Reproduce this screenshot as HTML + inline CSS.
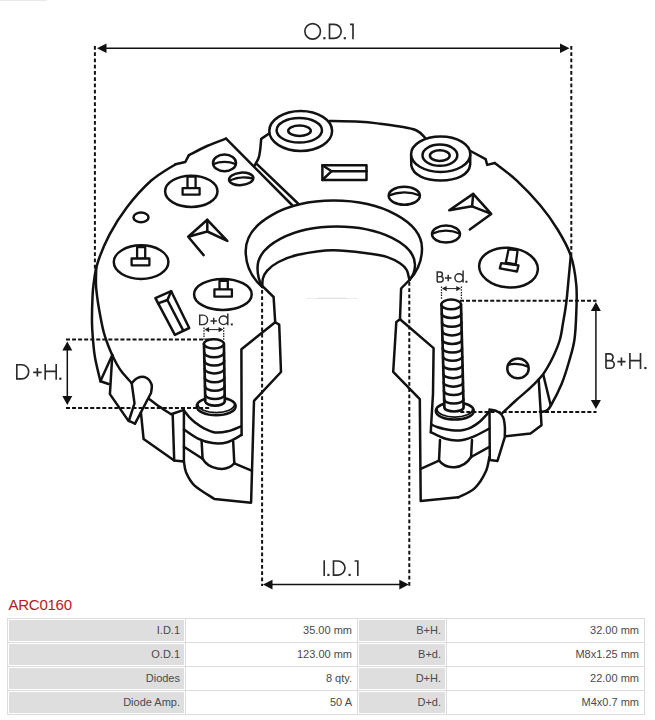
<!DOCTYPE html>
<html><head><meta charset="utf-8"><title>ARC0160</title>
<style>
html,body{margin:0;padding:0;background:#fff;}
body{width:655px;height:720px;position:relative;overflow:hidden;font-family:"Liberation Sans",sans-serif;}
#ttl{position:absolute;left:8.5px;top:596px;font-size:15px;line-height:18px;color:#b0202a;letter-spacing:-0.25px;}
table{position:absolute;left:7px;top:618px;width:637px;border-collapse:collapse;table-layout:fixed;}
td{border:1px solid #dcdcdc;height:23px;padding:0;font-size:11px;color:#4a4a4a;text-align:right;box-sizing:border-box;}
td.k{padding:1px;}
td.k div{background:#dedede;height:21px;line-height:21px;padding-right:4px;box-sizing:border-box;}
td.v{padding-right:5px;line-height:21px;}
col.c1{width:178px}col.c2{width:172px}col.c3{width:89px}col.c4{width:198px}
</style></head><body>
<svg width="655" height="595" viewBox="0 0 655 595" style="position:absolute;left:0;top:0">
<path d="M226.1,138.6 C222.9,139.8 213.2,143.2 207.0,146.0 C200.8,148.8 191.9,153.7 188.9,155.2" fill="none" stroke="#111" stroke-width="2.50" stroke-linejoin="round" stroke-linecap="round" />
<path d="M188.9,155.2 L185.3,162.0 L175.5,164.2" fill="none" stroke="#111" stroke-width="2.50" stroke-linejoin="round" stroke-linecap="round" />
<path d="M175.5,164.2 C171.4,167.0 159.2,173.6 151.0,180.8 C142.8,188.1 133.5,198.7 126.6,207.7 C119.7,216.7 114.3,225.4 109.5,234.6 C104.7,243.8 100.2,254.8 97.6,263.0 C94.9,271.2 94.5,277.8 93.6,284.0 C92.7,290.2 92.7,293.4 92.4,300.0 C92.1,306.6 91.9,316.6 92.0,323.3 C92.1,330.0 92.5,334.3 93.0,340.0 C93.5,345.7 93.8,350.6 95.0,357.5 C96.2,364.4 99.5,377.3 100.4,381.3" fill="none" stroke="#111" stroke-width="2.50" stroke-linejoin="round" stroke-linecap="round" />
<path d="M96.2,268.0 C96.2,270.8 95.8,279.7 96.0,285.0 C96.2,290.3 96.9,294.8 97.6,300.0 C98.3,305.2 99.3,310.6 100.3,316.0 C101.3,321.4 102.5,327.7 103.8,332.5 C105.1,337.3 106.6,341.2 108.0,345.0 C109.4,348.8 110.7,351.8 112.2,355.0 C113.7,358.2 115.3,361.5 117.0,364.5 C118.7,367.5 120.0,369.7 122.5,372.8 C125.0,375.9 130.2,381.4 131.7,383.1" fill="none" stroke="#111" stroke-width="2.50" stroke-linejoin="round" stroke-linecap="round" />
<path d="M112.3,355.0 L100.4,381.3 L108.6,384.0" fill="none" stroke="#111" stroke-width="2.50" stroke-linejoin="round" stroke-linecap="round" />
<path d="M112.3,355.0 L109.9,394.1 L128.3,420.6 L135.0,423.6" fill="none" stroke="#111" stroke-width="2.50" stroke-linejoin="round" stroke-linecap="round" />
<path d="M131.7,383.1 L134.5,403.3 L128.8,421.0" fill="none" stroke="#111" stroke-width="2.50" stroke-linejoin="round" stroke-linecap="round" />
<path d="M131.7,383.1 C132.6,382.3 134.9,379.1 137.2,378.2 C139.5,377.2 143.1,376.3 145.5,377.4 C147.9,378.4 150.7,381.9 151.6,384.5 C152.5,387.1 151.1,391.6 151.0,393.0 L135.0,423.6" fill="none" stroke="#111" stroke-width="2.50" stroke-linejoin="round" stroke-linecap="round" />
<path d="M148.8,398.7 C150.7,400.1 156.4,404.4 160.1,407.0 C163.8,409.6 169.3,413.1 171.1,414.3 L183.9,409.9" fill="none" stroke="#111" stroke-width="2.50" stroke-linejoin="round" stroke-linecap="round" />
<path d="M140.9,412.4 L143.6,439.0 L174.2,460.5" fill="none" stroke="#111" stroke-width="2.50" stroke-linejoin="round" stroke-linecap="round" />
<path d="M172.7,414.7 L174.2,460.5 L183.9,461.5 L183.9,410.5" fill="none" stroke="#111" stroke-width="2.50" stroke-linejoin="round" stroke-linecap="round" />
<path d="M183.9,410.5 C184.8,411.6 187.0,414.7 189.0,416.8 C191.0,418.9 193.2,421.0 195.7,422.9 C198.2,424.8 200.8,426.8 204.0,428.4 C207.2,430.0 211.0,431.9 214.9,432.4 C218.8,432.9 223.4,432.3 227.7,431.3 C232.0,430.3 238.6,427.2 240.8,426.4" fill="none" stroke="#111" stroke-width="2.50" stroke-linejoin="round" stroke-linecap="round" />
<path d="M183.9,429.4 C186.2,430.9 193.2,436.3 198.0,438.6 C202.8,440.9 207.7,442.5 212.6,443.1 C217.5,443.7 222.5,443.6 227.3,442.2 C232.1,440.8 239.2,436.1 241.6,434.9" fill="none" stroke="#111" stroke-width="2.50" stroke-linejoin="round" stroke-linecap="round" />
<path d="M201.6,441.3 L202.6,458.7" fill="none" stroke="#111" stroke-width="2.50" stroke-linejoin="round" stroke-linecap="round" />
<path d="M233.2,441.6 L234.3,463.3" fill="none" stroke="#111" stroke-width="2.50" stroke-linejoin="round" stroke-linecap="round" />
<path d="M202.6,458.7 C208,469 226,473 234.3,463.3" fill="none" stroke="#111" stroke-width="2.50" stroke-linejoin="round" stroke-linecap="round" />
<path d="M183.9,446.8 L202.6,458.7" fill="none" stroke="#111" stroke-width="2.50" stroke-linejoin="round" stroke-linecap="round" />
<path d="M234.3,463.3 L251.6,470.6" fill="none" stroke="#111" stroke-width="2.50" stroke-linejoin="round" stroke-linecap="round" />
<path d="M183.9,461.5 C184.3,463.3 184.4,468.4 186.1,472.4 C187.8,476.4 189.6,480.9 194.3,485.3 C199.0,489.7 211.1,496.7 214.5,499.0 L251.1,502.7 L253.4,421.9 L254.0,400.8 L281.0,372 L279.2,324.6 L275.2,322.2" fill="none" stroke="#111" stroke-width="2.50" stroke-linejoin="round" stroke-linecap="round" />
<path d="M262.5,286.2 L273.6,297.0 L275.2,322.2 L241.4,349.3 L241.6,434.9" fill="none" stroke="#111" stroke-width="2.50" stroke-linejoin="round" stroke-linecap="round" />
<path d="M262.3,287 C252,278 245.7,266 245.7,251 C245.7,223 285,200.6 333.5,200.6 C382,200.6 422.0,222 422.0,248.5 C422.0,262 416,273 409.4,280" fill="none" stroke="#111" stroke-width="2.50" stroke-linejoin="round" stroke-linecap="round" />
<path d="M262.3,287 C259,281 257.5,275 257.5,268 C257.5,245 293,226.5 336.5,226.5 C380,226.5 415.0,244 415.0,265 C415.0,271 413,276 409.4,280" fill="none" stroke="#111" stroke-width="2.50" stroke-linejoin="round" stroke-linecap="round" />
<path d="M262.3,287.0 C262.4,285.6 262.1,281.2 262.9,278.5 C263.7,275.8 264.6,273.4 267.2,270.6 C269.8,267.9 273.4,264.6 278.5,262.0 C283.6,259.4 288.9,256.8 298.0,254.8 C307.1,252.9 320.7,250.5 332.8,250.3 C344.9,250.1 361.5,252.7 370.5,253.8 C379.5,254.9 381.8,255.3 386.7,256.9 C391.6,258.5 396.7,261.1 400.0,263.3 C403.3,265.5 405.1,267.2 406.7,270.0 C408.3,272.8 408.9,278.3 409.4,280.0" fill="none" stroke="#111" stroke-width="2.50" stroke-linejoin="round" stroke-linecap="round" />
<path d="M409.4,280.0 L401.1,288.5 L400.0,319.2 L396.3,322.0 L393.2,371.8 L419.8,399.2 L420.7,500.9 L458.3,497.3" fill="none" stroke="#111" stroke-width="2.50" stroke-linejoin="round" stroke-linecap="round" />
<path d="M458.3,497.3 C461.1,495.8 470.2,492.4 474.8,488.1 C479.4,483.8 483.4,476.8 485.8,471.6 C488.2,466.4 488.8,459.4 489.4,457.0" fill="none" stroke="#111" stroke-width="2.50" stroke-linejoin="round" stroke-linecap="round" />
<path d="M400.0,319.2 L433.6,348.1 L433.0,393.9 L431.2,424.0 L430.8,432.2" fill="none" stroke="#111" stroke-width="2.50" stroke-linejoin="round" stroke-linecap="round" />
<path d="M431.4,424.5 C432.3,424.9 434.8,426.3 437.0,427.0 C439.2,427.7 441.1,428.3 444.4,428.9 C447.7,429.5 453.2,430.5 456.6,430.6 C460.0,430.7 462.6,430.1 465.0,429.6 C467.4,429.1 468.8,428.8 471.3,427.4 C473.8,426.0 477.0,424.1 480.0,421.5 C483.0,418.9 487.9,413.2 489.5,411.5" fill="none" stroke="#111" stroke-width="2.50" stroke-linejoin="round" stroke-linecap="round" />
<path d="M430.8,432.2 C433.2,433.3 440.9,437.4 445.5,438.8 C450.1,440.2 453.7,440.8 458.3,440.5 C462.9,440.2 467.7,438.8 472.9,436.8 C478.1,434.8 486.6,430.0 489.4,428.6" fill="none" stroke="#111" stroke-width="2.50" stroke-linejoin="round" stroke-linecap="round" />
<path d="M440.0,440.0 L439.0,460.6" fill="none" stroke="#111" stroke-width="2.50" stroke-linejoin="round" stroke-linecap="round" />
<path d="M472.0,440.0 L471.1,457.0" fill="none" stroke="#111" stroke-width="2.50" stroke-linejoin="round" stroke-linecap="round" />
<path d="M439,460.6 C446,470 463,470 471.1,457" fill="none" stroke="#111" stroke-width="2.50" stroke-linejoin="round" stroke-linecap="round" />
<path d="M420.7,468.9 L439.0,460.6" fill="none" stroke="#111" stroke-width="2.50" stroke-linejoin="round" stroke-linecap="round" />
<path d="M471.1,457.0 L489.4,446.9" fill="none" stroke="#111" stroke-width="2.50" stroke-linejoin="round" stroke-linecap="round" />
<path d="M489.5,409.6 C490.8,409.9 495.2,410.3 497.5,411.5 C499.8,412.7 501.8,414.6 503.0,417.0 C504.2,419.4 504.5,422.8 504.8,426.1 C505.1,429.5 504.8,435.3 504.8,437.1 L497.5,460.9 L489.8,460 L489.5,409.6" fill="none" stroke="#111" stroke-width="2.50" stroke-linejoin="round" stroke-linecap="round" />
<path d="M502.1,413.3 C504.4,411.2 511.1,404.8 515.8,400.5 C520.5,396.2 525.9,392.0 530.5,387.6 C535.1,383.2 539.6,378.8 543.3,373.9 C546.9,369.0 549.6,363.9 552.4,358.3 C555.1,352.7 558.0,346.1 559.8,340.0 C561.6,333.9 562.1,328.1 563.2,322.0 C564.3,315.9 565.2,311.0 566.2,303.3 C567.2,295.6 568.1,283.7 568.9,275.8 C569.7,267.9 570.5,259.1 570.8,255.7" fill="none" stroke="#111" stroke-width="2.50" stroke-linejoin="round" stroke-linecap="round" />
<path d="M494.8,163.0 C498.5,165.9 509.3,173.6 516.8,180.6 C524.3,187.6 533.1,196.8 540.0,205.0 C546.9,213.2 552.8,221.6 557.9,230.0 C563.0,238.4 567.7,246.5 570.8,255.7 C573.9,264.9 575.4,275.6 576.3,285.0 C577.2,294.4 576.6,303.2 576.3,312.4 C576.0,321.6 575.6,331.7 574.4,340.0 C573.2,348.3 571.0,354.7 568.9,362.0 C566.8,369.3 564.6,376.7 561.6,384.0 C558.6,391.3 553.2,401.5 550.6,406.0 C548.0,410.5 547.8,409.8 546.0,410.8 C544.2,411.8 541.0,411.6 540.0,411.8" fill="none" stroke="#111" stroke-width="2.50" stroke-linejoin="round" stroke-linecap="round" />
<path d="M494.8,163.0 L487.2,164.9 L485.6,159.2 L470.5,151.0" fill="none" stroke="#111" stroke-width="2.50" stroke-linejoin="round" stroke-linecap="round" />
<path d="M543.3,374.8 L550.6,405.0" fill="none" stroke="#111" stroke-width="2.50" stroke-linejoin="round" stroke-linecap="round" />
<path d="M538.7,379.4 L541.5,425.2 L530.5,433.4 L505.7,436.2" fill="none" stroke="#111" stroke-width="2.50" stroke-linejoin="round" stroke-linecap="round" />
<path d="M329.5,121.0 C334.6,121.1 351.6,121.3 360.0,121.8 C368.4,122.2 373.3,122.9 380.0,123.7 C386.7,124.5 393.9,125.4 400.0,126.5 C406.1,127.6 412.4,128.6 416.6,130.5 C420.8,132.4 423.8,136.7 425.2,137.9" fill="none" stroke="#111" stroke-width="2.50" stroke-linejoin="round" stroke-linecap="round" />
<path d="M269.5,133.2 L261.2,138.9 C261.0,140.7 260.6,146.5 260.2,149.7 C259.8,152.9 259.6,155.2 258.6,158.0 C257.6,160.8 254.9,164.8 254.2,166.2 M257.2,164.4 L298.0,203.5" fill="none" stroke="#111" stroke-width="2.50" stroke-linejoin="round" stroke-linecap="round" />
<path d="M226.1,138.6 L292.0,205.0" fill="none" stroke="#111" stroke-width="2.50" stroke-linejoin="round" stroke-linecap="round" />
<ellipse cx="300.7" cy="131.0" rx="31.4" ry="19.9" fill="#fff" stroke="#111" stroke-width="2.50"/>
<ellipse cx="299.3" cy="130.3" rx="22.7" ry="12.3" fill="none" stroke="#111" stroke-width="2.50"/>
<ellipse cx="299.5" cy="130.7" rx="11.3" ry="5.2" fill="none" stroke="#111" stroke-width="2.50"/>
<path d="M411.1,154.2 L411.3,165.5 C413,175 425,180.4 440.7,180.4 C457,180.4 469,175 470.2,164.5 L470.2,154.2" fill="#fff" stroke="#111" stroke-width="2.50" stroke-linejoin="round" stroke-linecap="round" />
<ellipse cx="440.7" cy="154.2" rx="29.6" ry="17.7" fill="#fff" stroke="#111" stroke-width="2.50"/>
<ellipse cx="439.9" cy="155.2" rx="17.4" ry="10.6" fill="none" stroke="#111" stroke-width="2.50"/>
<ellipse cx="439.8" cy="155.6" rx="9.9" ry="5.4" fill="none" stroke="#111" stroke-width="2.50"/>
<ellipse cx="191.3" cy="191.3" rx="26.2" ry="15.6" fill="none" stroke="#111" stroke-width="2.50"/>
<path d="M187.5,176.6 L195.6,176.6 L195.6,188.6 L187.5,188.6 Z" fill="#fff" stroke="#111" stroke-width="2.30" stroke-linejoin="round" stroke-linecap="round" />
<path d="M182.6,188.1 L199.6,188.1 L199.6,194.7 L182.6,194.7 Z" fill="#fff" stroke="#111" stroke-width="2.30" stroke-linejoin="round" stroke-linecap="round" />
<ellipse cx="141.1" cy="262.1" rx="27.3" ry="16.8" fill="none" stroke="#111" stroke-width="2.50"/>
<path d="M137.1,247.1 L145.2,247.1 L145.2,259.0 L137.1,259.0 Z" fill="#fff" stroke="#111" stroke-width="2.30" stroke-linejoin="round" stroke-linecap="round" />
<path d="M131.6,258.5 L149.4,258.5 L149.4,265.3 L131.6,265.3 Z" fill="#fff" stroke="#111" stroke-width="2.30" stroke-linejoin="round" stroke-linecap="round" />
<ellipse cx="222.9" cy="294.4" rx="28.8" ry="15.5" fill="none" stroke="#111" stroke-width="2.50"/>
<path d="M219.5,280.8 L227.8,280.8 L227.8,289.9 L219.5,289.9 Z" fill="#fff" stroke="#111" stroke-width="2.30" stroke-linejoin="round" stroke-linecap="round" />
<path d="M214.4,289.4 L231.9,289.4 L231.9,296.7 L214.4,296.7 Z" fill="#fff" stroke="#111" stroke-width="2.30" stroke-linejoin="round" stroke-linecap="round" />
<ellipse cx="508.5" cy="267.6" rx="29.4" ry="19.8" fill="none" stroke="#111" stroke-width="2.50" transform="rotate(5.0 508.5 267.6)"/>
<path d="M508.6,249.3 L517.6,250.2 L515.7,264.5 L505.8,262.6 Z" fill="#fff" stroke="#111" stroke-width="2.30" stroke-linejoin="round" stroke-linecap="round" />
<path d="M501.2,263.1 L518.5,265.4 L517.0,271.5 L499.8,268.4 Z" fill="#fff" stroke="#111" stroke-width="2.30" stroke-linejoin="round" stroke-linecap="round" />
<ellipse cx="141.0" cy="217.4" rx="7.5" ry="4.8" fill="none" stroke="#111" stroke-width="2.50"/>
<g><clipPath id="h1"><ellipse cx="224.5" cy="162.9" rx="11.5" ry="8.3"/></clipPath>
<path d="M211.5,164.9 Q224.5,158.9 237.5,164.9" fill="none" stroke="#111" stroke-width="2.25" clip-path="url(#h1)"/>
<ellipse cx="224.5" cy="162.9" rx="11.5" ry="8.3" fill="none" stroke="#111" stroke-width="2.50"/></g>
<g transform="rotate(-5.0 241.2 178.9)"><clipPath id="h2"><ellipse cx="241.2" cy="178.9" rx="12.2" ry="6.2"/></clipPath>
<path d="M227.5,180.4 Q241.2,174.6 255.0,180.4" fill="none" stroke="#111" stroke-width="2.25" clip-path="url(#h2)"/>
<ellipse cx="241.2" cy="178.9" rx="12.2" ry="6.2" fill="none" stroke="#111" stroke-width="2.50"/></g>
<g><clipPath id="h3"><ellipse cx="404.3" cy="195.8" rx="15.6" ry="9.0"/></clipPath>
<path d="M387.5,196.0 Q404.5,188.6 421.0,196.0" fill="none" stroke="#111" stroke-width="2.25" clip-path="url(#h3)"/>
<ellipse cx="404.3" cy="195.8" rx="15.6" ry="9.0" fill="none" stroke="#111" stroke-width="2.50"/></g>
<g><clipPath id="h4"><ellipse cx="446.0" cy="234.1" rx="14.0" ry="8.5"/></clipPath>
<path d="M430.5,234.4 Q446.0,227.0 461.5,234.4" fill="none" stroke="#111" stroke-width="2.25" clip-path="url(#h4)"/>
<ellipse cx="446.0" cy="234.1" rx="14.0" ry="8.5" fill="none" stroke="#111" stroke-width="2.50"/></g>
<g><clipPath id="h5"><ellipse cx="518.0" cy="368.4" rx="10.7" ry="9.9"/></clipPath>
<path d="M506.0,365.6 Q517.0,361.5 530.0,367.4" fill="none" stroke="#111" stroke-width="2.25" clip-path="url(#h5)"/>
<ellipse cx="518.0" cy="368.4" rx="10.7" ry="9.9" fill="none" stroke="#111" stroke-width="2.50"/></g>
<path d="M203.6,255.1 L188.2,236.7 L207.3,219.8 L227.3,240.9 L207.3,231.5 L188.2,236.7" fill="none" stroke="#111" stroke-width="2.50" stroke-linejoin="round" stroke-linecap="round" />
<path d="M207.3,219.8 L207.3,231.5" fill="none" stroke="#111" stroke-width="2.50" stroke-linejoin="round" stroke-linecap="round" />
<path d="M469.8,229.4 L491.2,213.9 L473.2,193.9 L449.3,210.2 L472.1,206.3 L491.2,213.9" fill="none" stroke="#111" stroke-width="2.50" stroke-linejoin="round" stroke-linecap="round" />
<path d="M473.2,193.9 L472.1,206.3" fill="none" stroke="#111" stroke-width="2.50" stroke-linejoin="round" stroke-linecap="round" />
<path d="M322.4,165.3 L366.5,165.3 L366.5,180.0 L322.4,180.0 Z" fill="none" stroke="#111" stroke-width="2.50" stroke-linejoin="round" stroke-linecap="round" />
<path d="M322.4,165.3 L331.6,171.2 L322.4,180.0" fill="none" stroke="#111" stroke-width="2.50" stroke-linejoin="round" stroke-linecap="round" />
<path d="M331.6,171.2 L366.5,171.2" fill="none" stroke="#111" stroke-width="2.50" stroke-linejoin="round" stroke-linecap="round" />
<path d="M155.4,298.2 L171.2,291.2 L189.2,328.0 L174.9,334.9 Z" fill="none" stroke="#111" stroke-width="2.50" stroke-linejoin="round" stroke-linecap="round" />
<path d="M158.0,303.4 L167.4,300.0 L183.3,330.6" fill="none" stroke="#111" stroke-width="2.50" stroke-linejoin="round" stroke-linecap="round" />
<path d="M171.2,291.2 L167.4,300.0" fill="none" stroke="#111" stroke-width="2.50" stroke-linejoin="round" stroke-linecap="round" />
<line x1="0" y1="0.5" x2="47" y2="0.5" stroke="#e9e9e9" stroke-width="1"/>
<line x1="306" y1="298.3" x2="358" y2="298.3" stroke="#ececec" stroke-width="1"/><line x1="318" y1="298.3" x2="346" y2="298.3" stroke="#e2e2e2" stroke-width="1"/>
<ellipse cx="216.2" cy="406.2" rx="19.5" ry="9.0" fill="#fff" stroke="#111" stroke-width="2.50"/>
<path d="M197.9,404.6 A18.3,8.0 0 0,0 234.5,404.6" fill="none" stroke="#111" stroke-width="1.75" stroke-linejoin="round" stroke-linecap="round" />
<path d="M204.0,343.8 L205.3,401.4 A9.8,4.8 0 0,0 224.8,401.4 L223.9,343.8 Z" fill="#fff" stroke="#111" stroke-width="2.70" stroke-linejoin="round" stroke-linecap="round" />
<ellipse cx="213.9" cy="343.8" rx="10.0" ry="4.6" fill="#fff" stroke="#111" stroke-width="2.50"/>
<path d="M204.2,352.4 A9.9,4.8 0 0,0 224.0,352.4" fill="none" stroke="#111" stroke-width="2.50" stroke-linejoin="round" stroke-linecap="round" />
<path d="M204.4,360.7 A9.9,4.8 0 0,0 224.2,360.7" fill="none" stroke="#111" stroke-width="2.50" stroke-linejoin="round" stroke-linecap="round" />
<path d="M204.6,369.1 A9.9,4.8 0 0,0 224.3,369.1" fill="none" stroke="#111" stroke-width="2.50" stroke-linejoin="round" stroke-linecap="round" />
<path d="M204.8,377.5 A9.8,4.8 0 0,0 224.4,377.5" fill="none" stroke="#111" stroke-width="2.50" stroke-linejoin="round" stroke-linecap="round" />
<path d="M205.0,386.0 A9.8,4.8 0 0,0 224.6,386.0" fill="none" stroke="#111" stroke-width="2.50" stroke-linejoin="round" stroke-linecap="round" />
<path d="M205.2,394.8 A9.8,4.8 0 0,0 224.7,394.8" fill="none" stroke="#111" stroke-width="2.50" stroke-linejoin="round" stroke-linecap="round" />
<ellipse cx="454.8" cy="410.9" rx="19.0" ry="8.7" fill="#fff" stroke="#111" stroke-width="2.50"/>
<path d="M437.0,409.3 A17.8,7.7 0 0,0 472.6,409.3" fill="none" stroke="#111" stroke-width="1.75" stroke-linejoin="round" stroke-linecap="round" />
<path d="M441.5,304.4 L444.4,407.2 A9.6,4.3 0 0,0 463.6,407.2 L461.0,304.4 Z" fill="#fff" stroke="#111" stroke-width="2.70" stroke-linejoin="round" stroke-linecap="round" />
<ellipse cx="451.2" cy="304.4" rx="9.8" ry="4.8" fill="#fff" stroke="#111" stroke-width="2.50"/>
<path d="M441.8,313.7 A9.7,4.3 0 0,0 461.2,313.7" fill="none" stroke="#111" stroke-width="2.50" stroke-linejoin="round" stroke-linecap="round" />
<path d="M442.0,322.5 A9.7,4.3 0 0,0 461.5,322.5" fill="none" stroke="#111" stroke-width="2.50" stroke-linejoin="round" stroke-linecap="round" />
<path d="M442.3,331.1 A9.7,4.3 0 0,0 461.7,331.1" fill="none" stroke="#111" stroke-width="2.50" stroke-linejoin="round" stroke-linecap="round" />
<path d="M442.5,339.7 A9.7,4.3 0 0,0 461.9,339.7" fill="none" stroke="#111" stroke-width="2.50" stroke-linejoin="round" stroke-linecap="round" />
<path d="M442.7,348.3 A9.7,4.3 0 0,0 462.1,348.3" fill="none" stroke="#111" stroke-width="2.50" stroke-linejoin="round" stroke-linecap="round" />
<path d="M443.0,356.9 A9.7,4.3 0 0,0 462.3,356.9" fill="none" stroke="#111" stroke-width="2.50" stroke-linejoin="round" stroke-linecap="round" />
<path d="M443.2,365.5 A9.7,4.3 0 0,0 462.5,365.5" fill="none" stroke="#111" stroke-width="2.50" stroke-linejoin="round" stroke-linecap="round" />
<path d="M443.5,373.9 A9.6,4.3 0 0,0 462.8,373.9" fill="none" stroke="#111" stroke-width="2.50" stroke-linejoin="round" stroke-linecap="round" />
<path d="M443.7,382.4 A9.6,4.3 0 0,0 463.0,382.4" fill="none" stroke="#111" stroke-width="2.50" stroke-linejoin="round" stroke-linecap="round" />
<path d="M443.9,390.8 A9.6,4.3 0 0,0 463.2,390.8" fill="none" stroke="#111" stroke-width="2.50" stroke-linejoin="round" stroke-linecap="round" />
<path d="M444.2,399.3 A9.6,4.3 0 0,0 463.4,399.3" fill="none" stroke="#111" stroke-width="2.50" stroke-linejoin="round" stroke-linecap="round" />
<line x1="94.9" y1="46.0" x2="94.9" y2="269.0" stroke="#111" stroke-width="2" stroke-dasharray="3.8 2.45"/>
<line x1="571.3" y1="46.0" x2="571.3" y2="256.0" stroke="#111" stroke-width="2" stroke-dasharray="3.8 2.45"/>
<line x1="100.0" y1="48.2" x2="566.5" y2="48.2" stroke="#111" stroke-width="1.5"/>
<path d="M97.0,48.2 L106.5,43.4 L106.5,53.0 Z" fill="#111"/>
<path d="M569.5,48.2 L560.0,43.4 L560.0,53.0 Z" fill="#111"/>
<line x1="262.1" y1="290.0" x2="262.1" y2="586.0" stroke="#111" stroke-width="2" stroke-dasharray="3.8 2.45"/>
<line x1="409.3" y1="282.0" x2="409.3" y2="586.0" stroke="#111" stroke-width="2" stroke-dasharray="3.8 2.45"/>
<line x1="266.0" y1="584.6" x2="405.8" y2="584.6" stroke="#111" stroke-width="1.5"/>
<path d="M263.0,584.6 L272.5,579.8 L272.5,589.4 Z" fill="#111"/>
<path d="M408.8,584.6 L399.3,579.8 L399.3,589.4 Z" fill="#111"/>
<line x1="66.0" y1="339.6" x2="212.0" y2="339.6" stroke="#111" stroke-width="2" stroke-dasharray="4 2.05"/>
<line x1="66.0" y1="407.9" x2="209.8" y2="407.9" stroke="#111" stroke-width="2" stroke-dasharray="4 2.05"/>
<line x1="67.3" y1="344.5" x2="67.3" y2="402.0" stroke="#111" stroke-width="1.5"/>
<path d="M67.3,341.5 L62.3,350.5 L72.3,350.5 Z" fill="#111"/>
<path d="M67.3,405.0 L62.3,396.0 L72.3,396.0 Z" fill="#111"/>
<line x1="460.0" y1="300.7" x2="596.5" y2="300.7" stroke="#111" stroke-width="2" stroke-dasharray="4 2.05"/>
<line x1="460.3" y1="411.9" x2="596.5" y2="411.9" stroke="#111" stroke-width="2" stroke-dasharray="4 2.05"/>
<line x1="595.9" y1="305.0" x2="595.9" y2="406.0" stroke="#111" stroke-width="1.5"/>
<path d="M595.9,302.0 L590.9,311.0 L600.9,311.0 Z" fill="#111"/>
<path d="M595.9,409.0 L590.9,400.0 L600.9,400.0 Z" fill="#111"/>
<line x1="204.0" y1="327.5" x2="204.0" y2="340.0" stroke="#222" stroke-width="1.3" stroke-dasharray="1.5 1.2"/>
<line x1="223.7" y1="327.5" x2="223.7" y2="340.0" stroke="#222" stroke-width="1.3" stroke-dasharray="1.5 1.2"/>
<line x1="206.0" y1="329.6" x2="221.7" y2="329.6" stroke="#222" stroke-width="1"/>
<path d="M204.5,329.6 l4.6,-2.7 v5.4 Z M223.2,329.6 l-4.6,-2.7 v5.4 Z" fill="#222"/>
<line x1="441.5" y1="286.5" x2="441.5" y2="300.0" stroke="#222" stroke-width="1.3" stroke-dasharray="1.5 1.2"/>
<line x1="461.4" y1="286.5" x2="461.4" y2="300.0" stroke="#222" stroke-width="1.3" stroke-dasharray="1.5 1.2"/>
<line x1="443.5" y1="288.6" x2="459.4" y2="288.6" stroke="#222" stroke-width="1"/>
<path d="M442.0,288.6 l4.6,-2.7 v5.4 Z M460.9,288.6 l-4.6,-2.7 v5.4 Z" fill="#222"/>
<rect x="323.30" y="37.12" width="2.20" height="2.20" fill="#2b2b2b"/>
<rect x="343.70" y="37.12" width="2.20" height="2.20" fill="#2b2b2b"/>
<path role="img" aria-label="O.D.1" d="M304.85,31.35 a7.80,7.80 0 1,0 15.60,0 a7.80,7.80 0 1,0 -15.60,0 M329.50,38.40 V24.30 H334.15 A7.05,7.05 0 0,1 334.15,38.40 Z M350.00,24.30 H353.00 V39.23" fill="none" stroke="#2b2b2b" stroke-width="1.65"/>
<rect x="327.30" y="573.83" width="2.20" height="2.20" fill="#2b2b2b"/>
<rect x="348.50" y="573.83" width="2.20" height="2.20" fill="#2b2b2b"/>
<path role="img" aria-label="I.D.1" d="M324.20,575.93 V560.17 M333.50,575.10 V561.00 H337.95 A7.05,7.05 0 0,1 337.95,575.10 Z M354.60,561.00 H357.80 V575.93" fill="none" stroke="#2b2b2b" stroke-width="1.65"/>
<rect x="59.20" y="377.62" width="2.20" height="2.20" fill="#2b2b2b"/>
<path role="img" aria-label="D+H." d="M16.80,378.90 V364.70 H21.60 A7.10,7.10 0 0,1 21.60,378.90 Z M33.20,372.30 H41.60 M37.40,368.10 V376.50 M45.20,379.72 V363.88 M56.20,379.72 V363.88 M45.20,371.37 H56.20" fill="none" stroke="#2b2b2b" stroke-width="1.65"/>
<rect x="644.30" y="366.93" width="2.20" height="2.20" fill="#2b2b2b"/>
<path role="img" aria-label="B+H." d="M606.00,368.20 V353.90 H609.70 A3.36,3.36 0 0,1 609.70,360.62 H606.00 M606.00,360.62 H610.41 A3.79,3.79 0 0,1 610.41,368.20 H606.00 M617.40,361.60 H625.50 M621.45,357.55 V365.65 M629.90,369.02 V353.07 M640.50,369.02 V353.07 M629.90,360.62 H640.50" fill="none" stroke="#2b2b2b" stroke-width="1.65"/>
<rect x="230.80" y="323.43" width="2.00" height="2.00" fill="#2b2b2b"/>
<path role="img" aria-label="D+d." d="M199.70,324.60 V315.10 H202.85 A4.75,4.75 0 0,1 202.85,324.60 Z M210.50,321.00 H216.90 M213.70,317.80 V324.20 M219.20,320.30 a4.30,4.30 0 1,0 8.60,0 a4.30,4.30 0 1,0 -8.60,0 M227.80,325.33 V313.60" fill="none" stroke="#2b2b2b" stroke-width="1.45"/>
<rect x="465.40" y="280.73" width="2.00" height="2.00" fill="#2b2b2b"/>
<path role="img" aria-label="B+d." d="M437.20,281.90 V271.90 H440.05 A2.35,2.35 0 0,1 440.05,276.60 H437.20 M437.20,276.60 H440.55 A2.65,2.65 0 0,1 440.55,281.90 H437.20 M444.90,278.00 H451.50 M448.20,274.70 V281.30 M454.90,277.80 a4.10,4.10 0 1,0 8.20,0 a4.10,4.10 0 1,0 -8.20,0 M463.10,282.62 V270.40" fill="none" stroke="#2b2b2b" stroke-width="1.45"/>
</svg>
<div id="ttl">ARC0160</div>
<table><colgroup><col class="c1"><col class="c2"><col class="c3"><col class="c4"></colgroup>
<tr><td class="k"><div>I.D.1</div></td><td class="v">35.00 mm</td><td class="k"><div>B+H.</div></td><td class="v">32.00 mm</td></tr>
<tr><td class="k"><div>O.D.1</div></td><td class="v">123.00 mm</td><td class="k"><div>B+d.</div></td><td class="v">M8x1.25 mm</td></tr>
<tr><td class="k"><div>Diodes</div></td><td class="v">8 qty.</td><td class="k"><div>D+H.</div></td><td class="v">22.00 mm</td></tr>
<tr><td class="k"><div>Diode Amp.</div></td><td class="v">50 A</td><td class="k"><div>D+d.</div></td><td class="v">M4x0.7 mm</td></tr>
</table>
</body></html>
